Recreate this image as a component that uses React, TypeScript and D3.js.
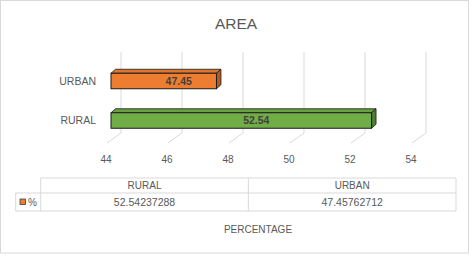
import React from "react";
import * as d3 from "d3";

const categories = ["URBAN", "RURAL"];
const values = [47.45762712, 52.54237288];
const dataLabels = ["47.45", "52.54"];
const barColors = ["#ED7D31", "#70AD47"];
const sideColors = ["#AE5A21", "#507E32"];
const topColors = ["#E0752D", "#68A142"];
const xTicks = [44, 46, 48, 50, 52, 54];
const tableCategories = ["RURAL", "URBAN"];
const tableValues = ["52.54237288", "47.45762712"];
const seriesName = "%";
const title = "AREA";
const axisTitle = "PERCENTAGE";

const W = 472;
const H = 256;
const FONT = "'Liberation Sans', Arial, sans-serif";
const TXT = "#595959";
const GRID = "#d9d9d9";

export default function App() {
  const xBack = d3.scaleLinear().domain([44, 54]).range([121, 426]);
  const wallTop = 52;
  const wallBottom = 133;
  const floorDx = -14;
  const floorDy = 10;
  const barDx = -10;
  const depthDx = 4.5;
  const depthDy = -4;
  const barH = 15.5;
  const yPos = d3.scalePoint<string>().domain(categories).range([61.25, 140.25]).padding(0.5);

  const tableTop = 178;
  const tableMid = 193;
  const tableBot = 211;
  const colX = d3.scaleBand<string>().domain(tableCategories).range([40.7, 456]);

  return (
    <svg
      width={W}
      height={H}
      style={{ position: "absolute", left: 0, top: 0, background: "#fff" }}
      fontFamily={FONT}
    >
      <rect x={0.5} y={0.5} width={468} height={252.5} fill="#fff" stroke={GRID} />
      <text x={236} y={29} textAnchor="middle" fontSize={15.5} fill={TXT}>
        {title}
      </text>

      {xTicks.map((t) => {
        const x = xBack(t);
        return (
          <g key={t}>
            <line x1={x} x2={x} y1={wallTop} y2={wallBottom} stroke={GRID} strokeWidth={1} />
            <line x1={x} x2={x + floorDx} y1={wallBottom} y2={wallBottom + floorDy} stroke={GRID} strokeWidth={1} />
            <text x={x + floorDx - 1} y={162.5} textAnchor="middle" fontSize={10} fill={TXT}>
              {t}
            </text>
          </g>
        );
      })}

      {categories.map((c, i) => {
        const cy = yPos(c)!;
        const x0 = xBack(44) + barDx;
        const x1 = xBack(values[i]) + barDx;
        const y0 = cy - barH / 2;
        const y1 = cy + barH / 2;
        const top = `M${x0},${y0} L${x0 + depthDx},${y0 + depthDy} L${x1 + depthDx},${y0 + depthDy} L${x1},${y0} Z`;
        const side = `M${x1},${y0} L${x1 + depthDx},${y0 + depthDy} L${x1 + depthDx},${y1 + depthDy} L${x1},${y1} Z`;
        return (
          <g key={c}>
            <path d={top} fill={topColors[i]} stroke="#1a1a1a" strokeWidth={0.8} strokeLinejoin="round" />
            <path d={side} fill={sideColors[i]} stroke="#1a1a1a" strokeWidth={0.8} strokeLinejoin="round" />
            <rect x={x0} y={y0} width={x1 - x0} height={barH} fill={barColors[i]} stroke="#1a1a1a" strokeWidth={1} />
            <text x={96} y={cy + 3.5} textAnchor="end" fontSize={10.5} fill={TXT}>
              {c}
            </text>
            <text
              x={(x0 + x1) / 2 + 15}
              y={cy + 3.8}
              textAnchor="middle"
              fontSize={10.5}
              fontWeight="bold"
              fill="#404040"
            >
              {dataLabels[i]}
            </text>
          </g>
        );
      })}

      <g stroke={GRID} strokeWidth={1} fill="none">
        <line x1={40.7} x2={456} y1={tableTop} y2={tableTop} />
        <line x1={15.7} x2={456} y1={tableMid} y2={tableMid} />
        <line x1={15.7} x2={456} y1={tableBot} y2={tableBot} />
        <line x1={15.7} x2={15.7} y1={tableMid} y2={tableBot} />
        <line x1={40.7} x2={40.7} y1={tableTop} y2={tableBot} />
        {tableCategories.map((c) => (
          <line key={c} x1={colX(c)! + colX.bandwidth()} x2={colX(c)! + colX.bandwidth()} y1={tableTop} y2={tableBot} />
        ))}
      </g>
      {tableCategories.map((c, i) => (
        <g key={c}>
          <text x={colX(c)! + colX.bandwidth() / 2} y={189} textAnchor="middle" fontSize={10} fill={TXT}>
            {c}
          </text>
          <text x={colX(c)! + colX.bandwidth() / 2} y={205.5} textAnchor="middle" fontSize={10.5} fill={TXT}>
            {tableValues[i]}
          </text>
        </g>
      ))}
      <rect x={20} y={199} width={5.5} height={5.5} fill="#ED7D31" stroke="#404040" strokeWidth={0.8} />
      <text x={28} y={205.5} fontSize={10} fill={TXT}>
        {seriesName}
      </text>

      <text x={258} y={232.5} textAnchor="middle" fontSize={10} fill={TXT}>
        {axisTitle}
      </text>
    </svg>
  );
}
